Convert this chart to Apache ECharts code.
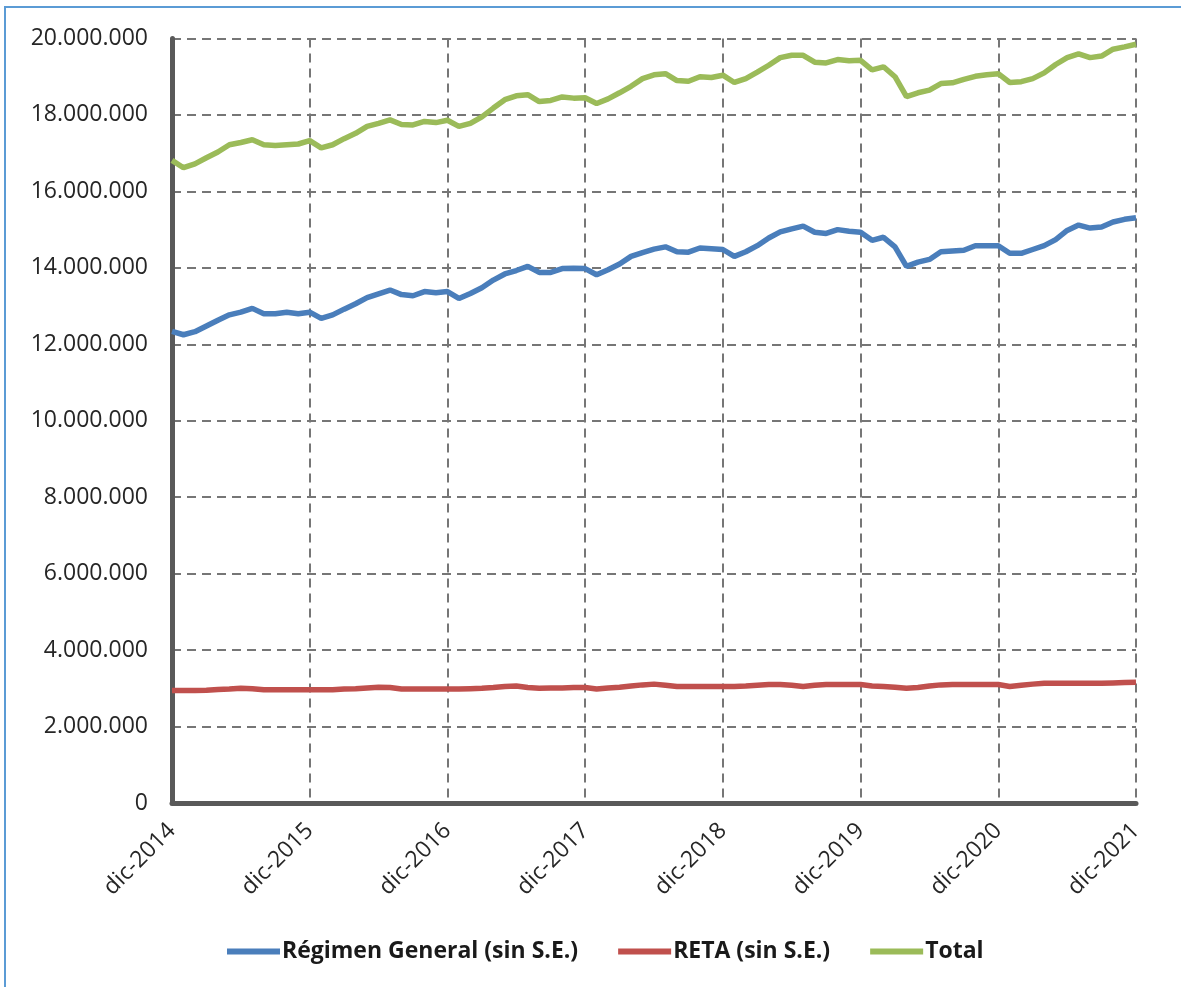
<!DOCTYPE html>
<html><head><meta charset="utf-8">
<script src="https://cdn.jsdelivr.net/npm/echarts@6/dist/echarts.min.js"></script>
<style>
html,body{margin:0;padding:0;background:#fff;}
#c{width:1181px;height:987px;position:absolute;left:0;top:0;}
#frame{position:absolute;left:4px;top:6px;width:1300px;height:1100px;border-left:2px solid #5b9bd5;border-top:2px solid #5b9bd5;pointer-events:none;}
</style>
</head><body><div id="c"></div><div id="frame"></div>
<script>
const monthNames = ['ene','feb','mar','abr','may','jun','jul','ago','sep','oct','nov','dic'];
const startYear = 2014, startMonth = 11, nPoints = 85;
const categories = [];
for (let i = 0; i < nPoints; i++) {
  const m = (startMonth + i) % 12, y = startYear + Math.floor((startMonth + i) / 12);
  categories.push(monthNames[m] + '-' + y);
}
const seriesNames = ['Régimen General (sin S.E.)', 'RETA (sin S.E.)', 'Total'];
const regimenGeneral = [
12340000,12250000,12330000,12480000,12630000,12770000,12840000,12940000,12800000,12800000,
12840000,12800000,12840000,12680000,12770000,12920000,13060000,13220000,13320000,13420000,
13300000,13270000,13380000,13350000,13380000,13200000,13330000,13480000,13680000,13840000,
13930000,14040000,13880000,13880000,13980000,13990000,13980000,13820000,13950000,14100000,
14300000,14400000,14490000,14550000,14420000,14410000,14520000,14500000,14480000,14300000,
14420000,14580000,14780000,14940000,15020000,15090000,14930000,14900000,15000000,14960000,
14930000,14720000,14800000,14550000,14040000,14150000,14220000,14420000,14440000,14460000,
14580000,14580000,14580000,14380000,14380000,14480000,14580000,14740000,14980000,15120000,
15040000,15070000,15200000,15270000,15310000];
const reta = [
2940000,2940000,2940000,2950000,2970000,2980000,3000000,2990000,2960000,2960000,
2960000,2960000,2960000,2960000,2960000,2980000,2990000,3010000,3030000,3020000,
2980000,2980000,2980000,2980000,2980000,2980000,2990000,3000000,3020000,3050000,
3060000,3020000,3000000,3010000,3010000,3020000,3020000,2980000,3010000,3030000,
3060000,3090000,3110000,3080000,3050000,3050000,3050000,3050000,3050000,3050000,
3060000,3080000,3100000,3100000,3080000,3050000,3080000,3100000,3100000,3100000,
3100000,3060000,3050000,3030000,3000000,3020000,3060000,3090000,3100000,3100000,
3100000,3100000,3100000,3050000,3080000,3110000,3130000,3130000,3130000,3130000,
3130000,3130000,3140000,3150000,3160000];
const total = [
16810000,16620000,16720000,16880000,17030000,17220000,17280000,17350000,17220000,17200000,
17220000,17240000,17330000,17140000,17220000,17380000,17520000,17700000,17780000,17870000,
17750000,17740000,17830000,17800000,17860000,17700000,17780000,17950000,18180000,18400000,
18500000,18530000,18350000,18380000,18470000,18440000,18450000,18300000,18420000,18580000,
18750000,18950000,19050000,19080000,18900000,18880000,19000000,18980000,19040000,18850000,
18950000,19120000,19300000,19500000,19560000,19560000,19380000,19360000,19450000,19420000,
19430000,19180000,19260000,19000000,18480000,18580000,18650000,18820000,18840000,18930000,
19010000,19050000,19080000,18850000,18870000,18950000,19100000,19320000,19500000,19600000,
19500000,19540000,19720000,19780000,19850000];
const yMin = 0, yMax = 20000000, yStep = 2000000;
const colors = ['#4a7ebb', '#c0504d', '#9bbb59'];

const font = 'Open Sans';
const gridDash = {color: '#767676', width: 2, type: [9, 6]};
const yearTick = function (i) { return i % 12 === 0; };
const fmt = v => String(v).replace(/\B(?=(\d{3})+(?!\d))/g, '.');

const chart = echarts.init(document.getElementById('c'), null, {renderer: 'canvas'});
chart.setOption({
  backgroundColor: 'transparent',
  animation: false,
  color: colors,
  grid: {left: 172, right: 45, top: 38.5, bottom: 184, containLabel: false},
  legend: {
    data: seriesNames, left: 222, top: 935, icon: 'rect',
    itemWidth: 53, itemHeight: 6, itemGap: 40,
    textStyle: {fontFamily: font, fontSize: 23, fontWeight: 'bold', color: '#1a1a1a', padding: [0, 0, 0, -3]}
  },
  xAxis: {
    type: 'category', data: categories, boundaryGap: false,
    axisLine: {show: true, onZero: false, lineStyle: {color: '#595959', width: 5}},
    axisTick: {show: false},
    axisLabel: {interval: yearTick, rotate: 45, margin: 24, fontFamily: font, fontSize: 23, color: '#262626'},
    splitLine: {show: true, interval: yearTick, lineStyle: gridDash}
  },
  yAxis: {
    type: 'value', min: yMin, max: yMax, interval: yStep,
    axisLine: {show: true, lineStyle: {color: '#595959', width: 5}},
    axisTick: {show: false},
    axisLabel: {margin: 24, fontFamily: font, fontSize: 23, color: '#262626', formatter: fmt},
    splitLine: {show: true, lineStyle: gridDash}
  },
  series: [
    {name: seriesNames[0], type: 'line', data: regimenGeneral, symbol: 'none', lineStyle: {width: 5.5, color: colors[0]}, itemStyle: {color: colors[0]}},
    {name: seriesNames[1], type: 'line', data: reta, symbol: 'none', lineStyle: {width: 5.5, color: colors[1]}, itemStyle: {color: colors[1]}},
    {name: seriesNames[2], type: 'line', data: total, symbol: 'none', lineStyle: {width: 5.5, color: colors[2]}, itemStyle: {color: colors[2]}}
  ]
});
</script></body></html>
